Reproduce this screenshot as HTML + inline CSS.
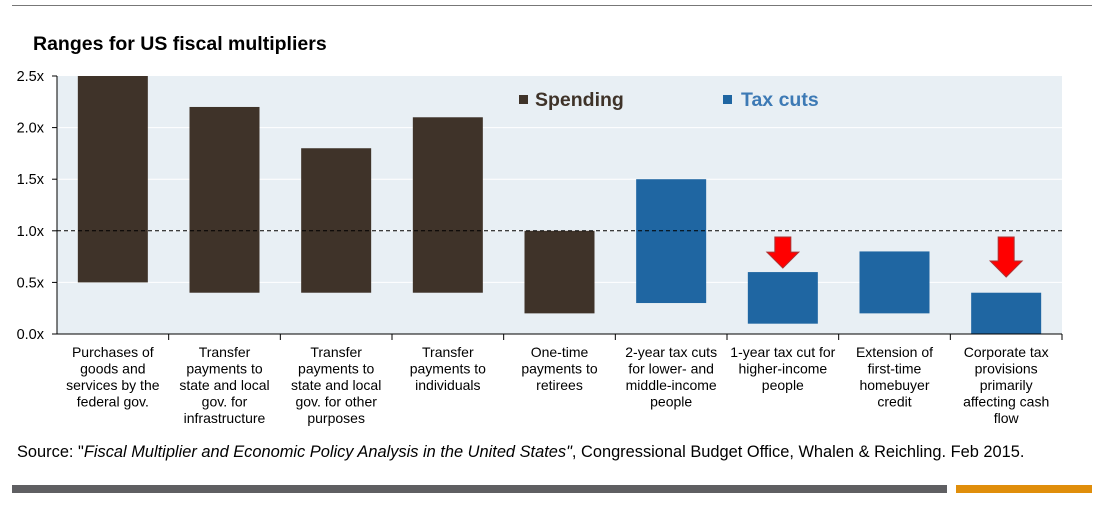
<!DOCTYPE html>
<html><head><meta charset="utf-8"><style>
body{margin:0;background:#fff;width:1110px;height:506px;overflow:hidden;font-family:"Liberation Sans",Arial,sans-serif}
</style></head><body>
<svg id="c" width="1110" height="506" xmlns="http://www.w3.org/2000/svg" font-family="Liberation Sans, Arial, sans-serif">
<line x1="12" y1="5.5" x2="1092" y2="5.5" stroke="#777" stroke-width="1"/>
<text x="33" y="50" font-size="19.5" font-weight="bold" fill="#000">Ranges for US fiscal multipliers</text>
<rect x="57" y="76" width="1005" height="258" fill="#e8eff4"/>
<g id="grid"></g><g id="bars"></g><g id="axis"></g>
<rect x="519" y="95" width="9" height="9" fill="#3f3329"/>
<text x="535" y="106" font-size="19.5" font-weight="bold" fill="#3f3329">Spending</text>
<rect x="723" y="95" width="9" height="9" fill="#1f66a2"/>
<text x="741" y="106" font-size="19.5" font-weight="bold" fill="#3d7ab5">Tax cuts</text>
<text x="17" y="457" font-size="16.4" fill="#000">Source: "<tspan font-style="italic">Fiscal Multiplier and Economic Policy Analysis in the United States"</tspan>, Congressional Budget Office, Whalen &amp; Reichling. Feb 2015.</text>
<rect x="12" y="485" width="935" height="8" fill="#5f5f62"/>
<rect x="956" y="485" width="136" height="8" fill="#e08e0b"/>
</svg>
<script>
const categories=[["Purchases of","goods and","services by the","federal gov."],["Transfer","payments to","state and local","gov. for","infrastructure"],["Transfer","payments to","state and local","gov. for other","purposes"],["Transfer","payments to","individuals"],["One-time","payments to","retirees"],["2-year tax cuts","for lower- and","middle-income","people"],["1-year tax cut for","higher-income","people"],["Extension of","first-time","homebuyer","credit"],["Corporate tax","provisions","primarily","affecting cash","flow"]];
const lowValues=[0.5,0.4,0.4,0.4,0.2,0.3,0.1,0.2,0.0];
const highValues=[2.5,2.2,1.8,2.1,1.0,1.5,0.6,0.8,0.4];
const seriesType=["spending","spending","spending","spending","spending","tax","tax","tax","tax"];
const arrowFlags=[0,0,0,0,0,0,1,0,1];
const yTicks=[0,0.5,1.0,1.5,2.0,2.5];
const yLabels=["0.0x","0.5x","1.0x","1.5x","2.0x","2.5x"];
const refLine=1.0;
const NS="http://www.w3.org/2000/svg";
const X0=57,X1=1062,Y0=334,Y1=76,YMAX=2.5;
const step=(X1-X0)/categories.length;
const y=v=>Y0-(v/YMAX)*(Y0-Y1);
const xc=i=>X0+step*(i+0.5);
function mk(t,a,p){const e=document.createElementNS(NS,t);for(const k in a)e.setAttribute(k,a[k]);p.appendChild(e);return e;}
const grid=document.getElementById('grid'),bars=document.getElementById('bars'),axis=document.getElementById('axis');
yTicks.forEach((t,i)=>{
 if(t>0&&t<YMAX){const g=mk('line',{x1:X0,x2:X1,y1:y(t),y2:y(t),stroke:'#fff','stroke-width':1},grid);
 
 }
 const tk=mk('line',{x1:X0-5,x2:X0,y1:y(t),y2:y(t),stroke:'#000'},axis);
 
 
 const l=mk('text',{x:X0-13,y:y(t)+5,'font-size':14.5,'text-anchor':'end',fill:'#000'},axis);
 l.textContent=yLabels[i];
 
 
});
categories.forEach((c,i)=>{
 const col=seriesType[i]==='spending'?'#3f3329':'#1f66a2';
 const b=mk('rect',{x:xc(i)-35,width:70,y:y(highValues[i]),height:y(lowValues[i])-y(highValues[i]),fill:col},bars);
 
 
 if(arrowFlags[i]){
  const top=237,bot=Math.min(y(highValues[i])-4,top+40),cx=xc(i);
  const p=mk('path',{d:`M${cx-8} ${top}H${cx+8}V${bot-16}H${cx+16}L${cx} ${bot}L${cx-16} ${bot-16}H${cx-8}Z`,fill:'#f00',stroke:'#a33','stroke-width':1},bars);
  
  
 }
 const tx=mk('line',{x1:X0+step*(i+1),x2:X0+step*(i+1),y1:Y0,y2:Y0+6,stroke:'#000'},axis);
 
 
 const t=mk('text',{'font-size':14,'text-anchor':'middle',fill:'#000'},axis);
 
 
 c.forEach((line,k)=>{const s=mk('tspan',{x:xc(i),y:357+k*16.5},t);s.textContent=line;});
});
const r=mk('line',{x1:X0,x2:X1,y1:y(refLine),y2:y(refLine),stroke:'#000','stroke-dasharray':'4 3'},bars);


const ya=mk('line',{x1:X0,x2:X0,y1:Y1,y2:Y0,stroke:'#000'},axis);


const xa=mk('line',{x1:X0,x2:X1,y1:Y0,y2:Y0,stroke:'#000'},axis);


</script>
</body></html>
